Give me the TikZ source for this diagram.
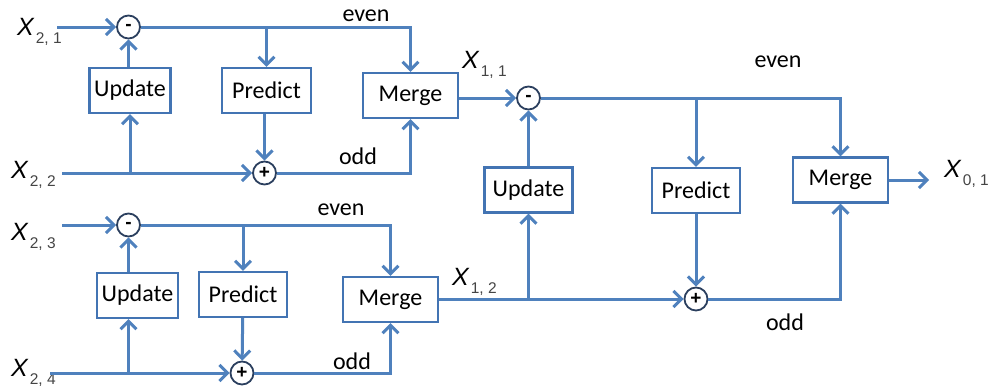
\documentclass[tikz,border=0pt]{standalone}
\usepackage{fontspec}
\setmainfont{Carlito}
\newfontfamily\xfont{Liberation Sans}
\usetikzlibrary{arrows.meta}
\definecolor{lnblue}{HTML}{4F81BD}
\definecolor{bxblue}{HTML}{4374B3}
\definecolor{circ}{HTML}{2B3F5E}
\definecolor{subgrey}{HTML}{444444}
\newcommand\xl[1]{{\xfont\itshape\fontsize{25}{25}\selectfont X}\kern2pt\raisebox{-8pt}{\xfont\fontsize{15.5}{15.5}\selectfont\color{subgrey}#1}}
\tikzset{
  conn/.style={draw=lnblue, line width=3pt, -{Straight Barb[length=8pt,width=16pt]}},
  blk/.style={draw=bxblue, line width=2.2pt, fill=white, inner sep=0pt, minimum height=45pt,
    font=\fontsize{24}{24}\selectfont, text=black},
  opc/.style={circle, draw=circ, line width=1.8pt, fill=white, minimum size=23pt, inner sep=0pt,
    font=\xfont\bfseries\fontsize{19}{19}\selectfont},
  lbl/.style={inner sep=0pt, anchor=base west},
  word/.style={inner sep=0pt, font=\fontsize{24}{24}\selectfont}
}
\begin{document}
\begin{tikzpicture}[x=1pt, y=-1pt]
\useasboundingbox (0,0) rectangle (994,386);
% ---------- top-left block ----------
\node[lbl] (x21) at (17,35) {\xl{2, 1}};
\node[lbl] (x22) at (11,178) {\xl{2, 2}};
\coordinate (in21) at (57,27);
\coordinate (in22) at (62,173);
\node[opc] (m1) at (128.5,27) {-};
\node[opc] (p1) at (264.5,173) {+};
\node[blk, minimum width=81pt] (upd1) at (130,90.5) {Update};
\node[blk, minimum width=89pt] (pred1) at (266.5,90.5) {Predict};
\node[blk, minimum width=95pt] (merge1) at (410.5,95.5) {Merge};
\node[word] (ev1) at (366,16) {even};
\node[word] (od1) at (358,156) {odd};
% ---------- bottom-left block ----------
\node[lbl] (x23) at (11,240) {\xl{2, 3}};
\node[lbl] (x24) at (11,376) {\xl{2, 4}};
\coordinate (in23) at (62,225);
\coordinate (in24) at (50,373);
\node[opc] (m3) at (128.5,225) {-};
\node[opc] (p3) at (242,373) {+};
\node[blk, minimum width=81pt] (upd3) at (137.5,295.5) {Update};
\node[blk, minimum width=88pt] (pred3) at (243,294.5) {Predict};
\node[blk, minimum width=95pt] (merge3) at (390.5,299.5) {Merge};
\node[word] (ev3) at (341,210) {even};
\node[word] (od3) at (352,361) {odd};
% ---------- right block ----------
\node[lbl] (x11) at (462,68) {\xl{1, 1}};
\node[lbl] (x12) at (452,285) {\xl{1, 2}};
\node[lbl] (x01) at (944,177) {\xl{0, 1}};
\node[opc] (m2) at (528.5,98) {-};
\node[opc] (p2) at (696,299) {+};
\node[blk, minimum width=88pt] (upd2) at (528.5,190) {Update};
\node[blk, minimum width=88pt] (pred2) at (696,190.5) {Predict};
\node[blk, minimum width=95pt] (merge2) at (840.5,180) {Merge};
\coordinate (out01) at (929,180);
\node[word] (ev2) at (778,62) {even};
\node[word] (od2) at (785,322) {odd};
% ---------- connectors: top-left ----------
\draw[conn] (in21) -- (m1);
\draw[conn] (m1) -| (merge1);
\draw[conn] (pred1 |- m1) -- (pred1);
\draw[conn] (upd1.north -| m1) -- (m1);
\draw[conn] (in22) -- (p1);
\draw[conn] (upd1 |- p1) -- (upd1);
\draw[conn] (pred1.south -| p1) -- (p1);
\draw[conn] (p1) -| (merge1);
\draw[conn] (merge1.east |- m2) -- (m2);
% ---------- connectors: bottom-left ----------
\draw[conn] (in23) -- (m3);
\draw[conn] (m3) -| (merge3);
\draw[conn] (pred3 |- m3) -- (pred3);
\draw[conn] (upd3.north -| m3) -- (m3);
\draw[conn] (in24) -- (p3);
\draw[conn] (m3 |- p3) -- (m3 |- upd3.south);
\draw[conn] (pred3) -- (p3);
\draw[conn] (p3) -| (merge3);
\draw[conn] (merge3.east |- p2) -- (p2);
% ---------- connectors: right ----------
\draw[conn] (m2) -| (merge2);
\draw[conn] (pred2 |- m2) -- (pred2);
\draw[conn] (upd2) -- (m2);
\draw[conn] (upd2 |- p2) -- (upd2);
\draw[conn] (pred2) -- (p2);
\draw[conn] (p2) -| (merge2);
\draw[conn] (merge2) -- (out01);
\end{tikzpicture}
\end{document}
